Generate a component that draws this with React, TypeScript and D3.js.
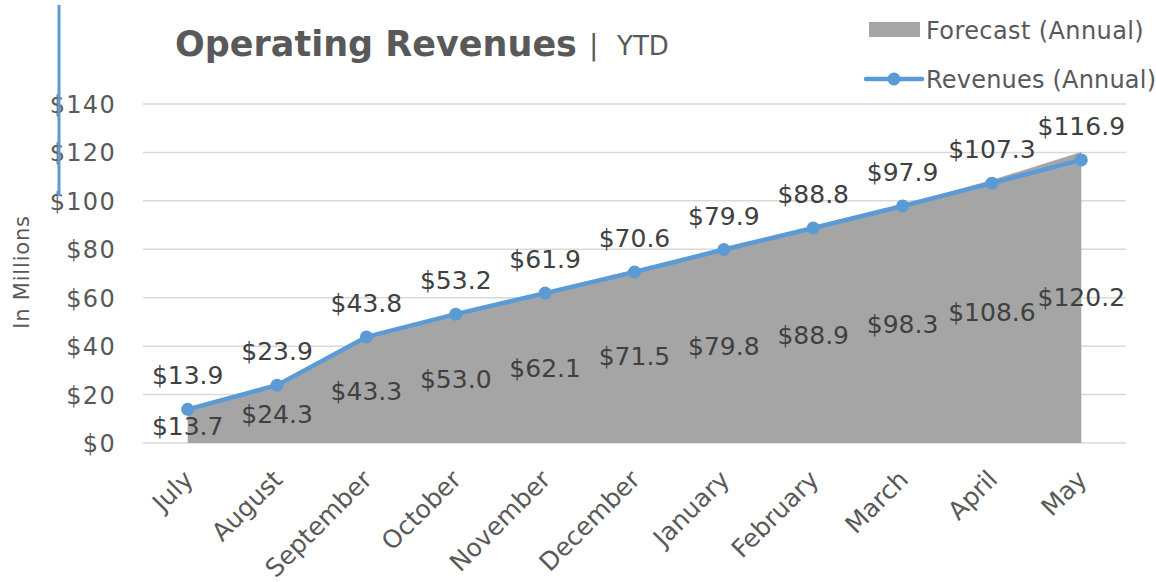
import React from 'react'
import * as d3 from 'd3'

const months = ['July', 'August', 'September', 'October', 'November', 'December', 'January', 'February', 'March', 'April', 'May']
const forecast = [13.7, 24.3, 43.3, 53.0, 62.1, 71.5, 79.8, 88.9, 98.3, 108.6, 120.2]
const revenues = [13.9, 23.9, 43.8, 53.2, 61.9, 70.6, 79.9, 88.8, 97.9, 107.3, 116.9]
const yTicks = [0, 20, 40, 60, 80, 100, 120, 140]

const W = 1156
const H = 582
const FONT = '"DejaVu Sans", sans-serif'
const BLUE = '#5B9BD5'
const GREY = '#A5A5A5'

export default function App() {
	const x = d3.scaleBand().domain(months).range([143, 1126])
	const y = d3.scaleLinear().domain([0, 140]).range([443, 104])
	const cx = (m) => x(m) + x.bandwidth() / 2

	const area = d3.area()
		.x((d, i) => cx(months[i]))
		.y0(y(0))
		.y1((d) => y(d))
	const line = d3.line()
		.x((d, i) => cx(months[i]))
		.y((d) => y(d))

	const fmt = (v) => '$' + v.toFixed(1)

	return (
		<svg width={W} height={H} style={{position: 'absolute', left: 0, top: 0, background: '#fff'}} fontFamily={FONT}>
			{/* gridlines */}
			{yTicks.map((t) => (
				<line key={t} x1={143} x2={1126} y1={y(t)} y2={y(t)} stroke="#d9d9d9" strokeWidth={1.5}/>
			))}
			{/* y labels */}
			{yTicks.map((t) => (
				<text key={'l' + t} x={116} y={y(t) + 9} textAnchor="end" fontSize={24} fill="#595959" letterSpacing={1.3}>
					{'$' + t}
				</text>
			))}
			<text transform="translate(29,272) rotate(-90)" textAnchor="middle" fontSize={21} fill="#595959" letterSpacing={0.8}>In Millions</text>

			{/* forecast area */}
			<path d={area(forecast)} fill={GREY}/>
			{/* revenue line */}
			<path d={line(revenues)} fill="none" stroke={BLUE} strokeWidth={4.5} strokeLinejoin="round"/>
			{revenues.map((v, i) => (
				<circle key={i} cx={cx(months[i])} cy={y(v)} r={6.5} fill={BLUE}/>
			))}

			{/* forecast labels */}
			{forecast.map((v, i) => (
				<text key={'f' + i} x={cx(months[i])} y={y(v / 2) + 9} textAnchor="middle" fontSize={25} fill="#404040">{fmt(v)}</text>
			))}
			{/* revenue labels */}
			{revenues.map((v, i) => (
				<text key={'r' + i} x={cx(months[i])} y={y(v) - 25} textAnchor="middle" fontSize={25} fill="#404040">{fmt(v)}</text>
			))}

			{/* x labels */}
			{months.map((m) => (
				<text key={m} transform={`translate(${cx(m) + 7},${481}) rotate(-45)`} textAnchor="end" fontSize={25} fill="#595959">{m}</text>
			))}

			{/* title */}
			<text x={175} y={56} fontSize={35} fontWeight="bold" fill="#595959">Operating Revenues</text>
			<text x={589} y={55} fontSize={28} fill="#595959">|</text>
			<text x={617} y={55} fontSize={26} fill="#595959">YTD</text>

			{/* legend */}
			<rect x={869} y={22} width={51} height={15} fill={GREY}/>
			<text x={926} y={39} fontSize={24} fill="#595959" letterSpacing={0.4}>Forecast (Annual)</text>
			<line x1={866} x2={922} y1={79} y2={79} stroke={BLUE} strokeWidth={4.5} strokeLinecap="round"/>
			<circle cx={894} cy={79} r={6.5} fill={BLUE}/>
			<text x={926} y={88} fontSize={24} fill="#595959" letterSpacing={0.2}>Revenues (Annual)</text>

			{/* accent bar */}
			<line x1={59} x2={59} y1={5} y2={196} stroke={BLUE} strokeWidth={3}/>
		</svg>
	)
}
